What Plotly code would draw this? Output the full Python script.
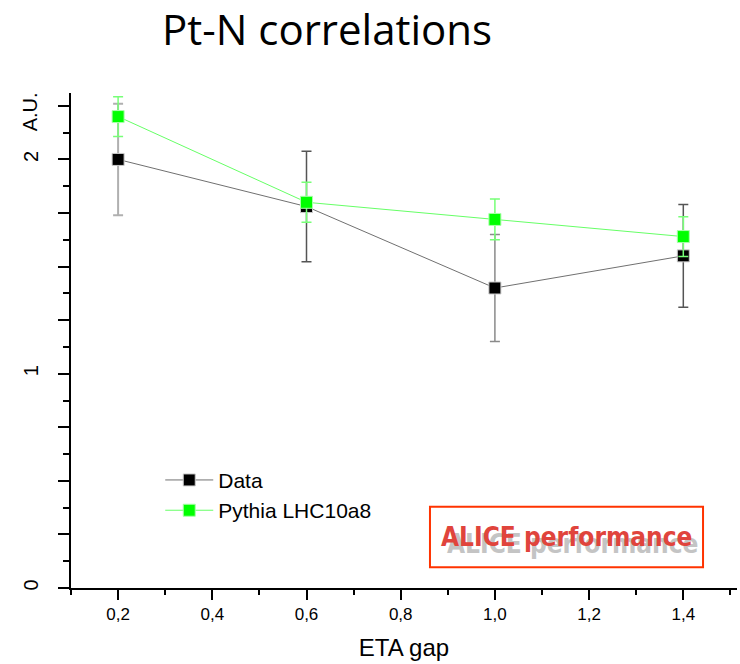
import plotly.graph_objects as go

# ---- data ----
eta_gap = [0.2, 0.6, 1.0, 1.4]
data_vals = [2.00, 1.78, 1.40, 1.55]
data_err = [0.26, 0.258, 0.25, 0.24]
pythia_vals = [2.20, 1.80, 1.72, 1.64]
pythia_err = [0.093, 0.093, 0.095, 0.093]

x_tickvals = [0.2, 0.4, 0.6, 0.8, 1.0, 1.2, 1.4]
x_ticktext = ["0,2", "0,4", "0,6", "0,8", "1,0", "1,2", "1,4"]
y_tickvals = [0, 0.25, 0.5, 0.75, 1, 1.25, 1.5, 1.75, 2, 2.25]
y_ticktext = ["0", "", "", "", "1", "", "", "", "2", ""]

# per-point error bar shades seen in the reference (style only)
data_err_colors = ["#b0b0b0", "#555555", "#8a8a8a", "#555555"]

fig = go.Figure()

# data error bars (per point colour)
for i in range(len(eta_gap)):
    fig.add_trace(go.Scatter(
        x=[eta_gap[i]], y=[data_vals[i]], mode="markers",
        marker=dict(size=1, color="rgba(0,0,0,0)"),
        error_y=dict(type="data", array=[data_err[i]], color=data_err_colors[i],
                     thickness=2 if i == 0 else 1.5, width=5),
        showlegend=False, hoverinfo="skip"))

fig.add_trace(go.Scatter(
    x=eta_gap, y=data_vals, mode="lines+markers", name="Data",
    line=dict(color="#707070", width=1),
    marker=dict(symbol="square", size=12, color="black",
                line=dict(color="#cccccc", width=1))))

fig.add_trace(go.Scatter(
    x=eta_gap, y=pythia_vals, mode="lines+markers", name="Pythia LHC10a8",
    line=dict(color="#66ff66", width=1),
    marker=dict(symbol="square", size=12, color="#00ff00",
                line=dict(color="#aaffaa", width=1)),
    error_y=dict(type="data", array=pythia_err, color="#77ff77",
                 thickness=1.5, width=5)))

axis_font = dict(family="Liberation Sans, Arial, sans-serif", color="black")

fig.update_layout(
    width=740, height=664,
    margin=dict(l=71, r=3, t=93, b=76),
    paper_bgcolor="white", plot_bgcolor="white",
    showlegend=True,
    title=dict(text="Pt-N correlations", x=0.442, xref="container", xanchor="center",
               y=0.955, yref="container", yanchor="middle",
               font=dict(family="Open Sans, sans-serif", size=42, color="black")),
    xaxis=dict(range=[0.1, 1.514], tickvals=x_tickvals, ticktext=x_ticktext,
               ticks="outside", ticklen=10, tickwidth=1.5, tickcolor="black",
               showline=True, linecolor="black", linewidth=2,
               showgrid=False, zeroline=False,
               minor=dict(dtick=0.1, tick0=0.1, ticks="outside", ticklen=5,
                          tickwidth=1.5, tickcolor="black", showgrid=False),
               tickfont=dict(size=17, **axis_font),
               title=dict(text="ETA gap", font=dict(size=24, **axis_font), standoff=16)),
    yaxis=dict(range=[0, 2.31], tickvals=y_tickvals, ticktext=y_ticktext,
               ticks="outside", ticklen=11, tickwidth=1.5, tickcolor="black",
               showline=True, linecolor="black", linewidth=2,
               showgrid=False, zeroline=False, tickangle=-90,
               ticklabelstandoff=12,
               minor=dict(dtick=0.125, tick0=0.125, ticks="outside", ticklen=6,
                          tickwidth=1.5, tickcolor="black", showgrid=False),
               tickfont=dict(size=20, **axis_font)),
    legend=dict(x=0.134, y=0.259, xanchor="left", yanchor="top",
                bgcolor="rgba(0,0,0,0)", font=dict(size=21, **axis_font),
                itemwidth=48, tracegroupgap=0),
)

# A.U. label
fig.add_annotation(text="A.U.", textangle=-90, xref="paper", yref="y",
                   x=0, y=2.22, xshift=-41, xanchor="center", yanchor="middle",
                   showarrow=False, font=dict(size=20, **axis_font))

# ALICE performance box
fig.add_shape(type="rect", xref="paper", yref="paper",
              x0=0.539, x1=0.949, y0=0.042, y1=0.164,
              line=dict(color="#ff3300", width=2), fillcolor="white")
box_font = "DejaVu Sans Condensed, Liberation Sans Narrow, sans-serif"
fig.add_annotation(text="<b>ALICE performance</b>", xref="paper", yref="paper",
                   x=0.744, y=0.103, xshift=6, yshift=-7, xanchor="center", yanchor="middle",
                   showarrow=False,
                   font=dict(family=box_font, size=26, color="#c4c4c4"))
fig.add_annotation(text="<b>ALICE performance</b>", xref="paper", yref="paper",
                   x=0.744, y=0.103, xanchor="center", yanchor="middle", showarrow=False,
                   font=dict(family=box_font, size=26, color="#e0443c"))

fig.write_html("out.html")
